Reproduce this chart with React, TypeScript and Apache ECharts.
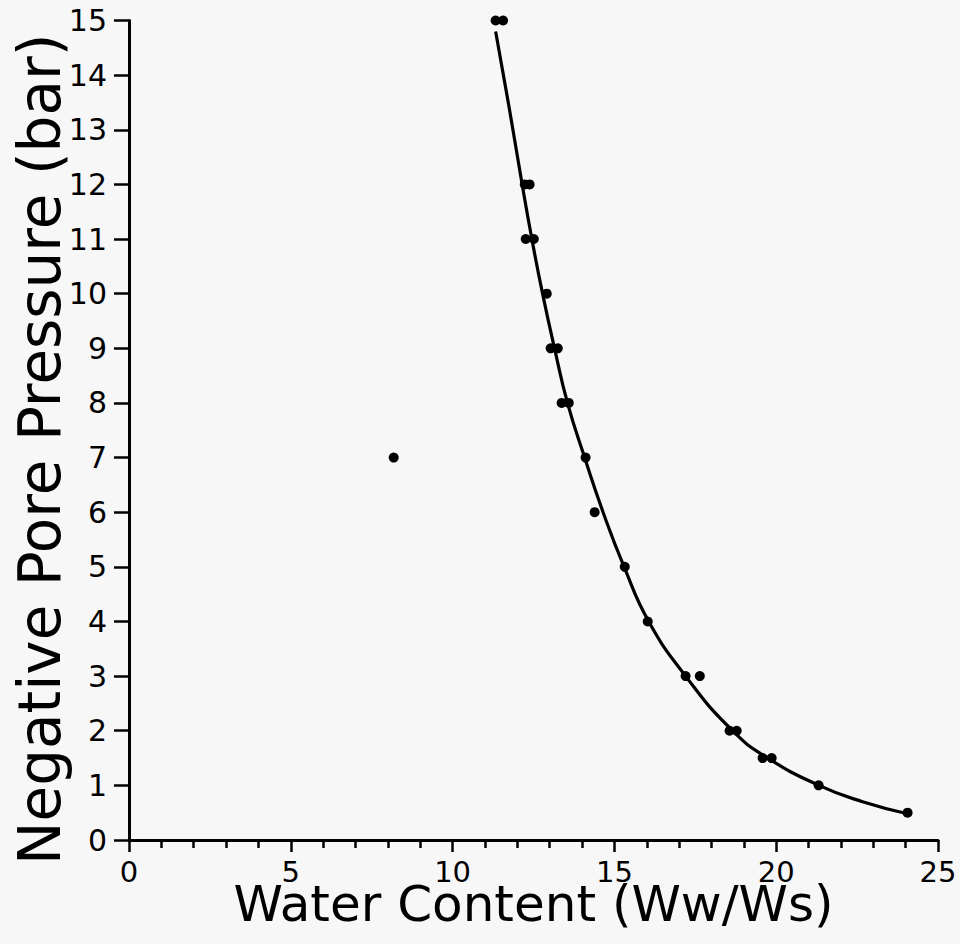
import React, { useEffect, useRef } from "react";
import * as echarts from "echarts";

// Measured points: water content (Ww/Ws) vs negative pore pressure (bar)
const pointX = [11.33, 11.56, 12.23, 12.38, 12.26, 12.51, 12.91, 13.03, 13.25, 13.37, 13.59, 14.11, 14.39, 15.32, 16.03, 17.2, 17.64, 18.56, 18.78, 19.58, 19.86, 21.31, 24.06, 8.18];
const pointY = [15, 15, 12, 12, 11, 11, 10, 9, 9, 8, 8, 7, 6, 5, 4, 3, 3, 2, 2, 1.5, 1.5, 1, 0.5, 7];

// Fitted curve
const curveX = [11.33, 11.75, 12.15, 12.45, 12.78, 13.15, 13.55, 14.08, 14.65, 15.3, 16.06, 17.2, 18.65, 19.74, 21.32, 22.67, 24.06];
const curveY = [14.8, 13.4, 12.0, 11.0, 10.0, 9.0, 8.0, 7.0, 6.0, 5.0, 4.0, 3.0, 2.0, 1.5, 1.0, 0.7, 0.48];

const xTickLabels = ["0", "5", "10", "15", "20", "25"];
const yTickLabels = ["0", "1", "2", "3", "4", "5", "6", "7", "8", "9", "10", "11", "12", "13", "14", "15"];

const FONT = "DejaVu Sans";

export default function App() {
  const ref = useRef<HTMLDivElement>(null);
  useEffect(() => {
    if (!ref.current) return;
    const chart = echarts.init(ref.current, null, { renderer: "svg" });
    chart.setOption({
      animation: false,
      backgroundColor: "#f7f7f7",
      grid: { left: 129, right: 22, top: 20.5, bottom: 104, containLabel: false, outerBoundsMode: "none" },
      xAxis: {
        type: "value",
        min: 0,
        max: 25,
        interval: 5,
        name: "Water Content (Ww/Ws)",
        nameLocation: "middle",
        nameGap: 44,
        nameMoveOverlap: false,
        nameTextStyle: { fontFamily: FONT, fontSize: 50, lineHeight: 40, color: "#000" },
        axisLine: { show: true, onZero: false, lineStyle: { color: "#000", width: 3 } },
        axisTick: { show: true, inside: false, length: 12, lineStyle: { color: "#000", width: 2.5 } },
        minorTick: { show: true, splitNumber: 5, length: 8, lineStyle: { color: "#000", width: 2.5 } },
        splitLine: { show: false },
        axisLabel: {
          margin: 21,
          fontFamily: FONT,
          fontSize: 29,
          lineHeight: 22,
          color: "#000",
          formatter: (v: number) => xTickLabels[Math.round(v / 5)] ?? "",
        },
      },
      yAxis: {
        type: "value",
        min: 0,
        max: 15,
        interval: 1,
        name: "Negative Pore Pressure (bar)",
        nameLocation: "middle",
        nameGap: 60,
        nameMoveOverlap: false,
        nameRotate: 90,
        nameTextStyle: { fontFamily: FONT, fontSize: 58, color: "#000", padding: [0, 38, 0, 0] },
        axisLine: { show: true, onZero: false, lineStyle: { color: "#000", width: 3 } },
        axisTick: { show: true, inside: false, length: 15, lineStyle: { color: "#000", width: 2.5 } },
        splitLine: { show: false },
        axisLabel: {
          margin: 22,
          fontFamily: FONT,
          fontSize: 30,
          color: "#000",
          formatter: (v: number) => yTickLabels[Math.round(v)] ?? "",
        },
      },
      series: [
        {
          type: "line",
          data: curveX.map((x, i) => [x, curveY[i]]),
          smooth: 0.5,
          showSymbol: false,
          lineStyle: { color: "#000", width: 3.2 },
          z: 2,
        },
        {
          type: "scatter",
          data: pointX.map((x, i) => [x, pointY[i]]),
          symbol: "circle",
          symbolSize: 10,
          itemStyle: { color: "#000", opacity: 1 },
          z: 3,
        },
      ],
    });
    return () => chart.dispose();
  }, []);
  return (
    <div
      ref={ref}
      style={{ position: "fixed", left: 0, top: 0, width: 960, height: 944 }}
    />
  );
}
